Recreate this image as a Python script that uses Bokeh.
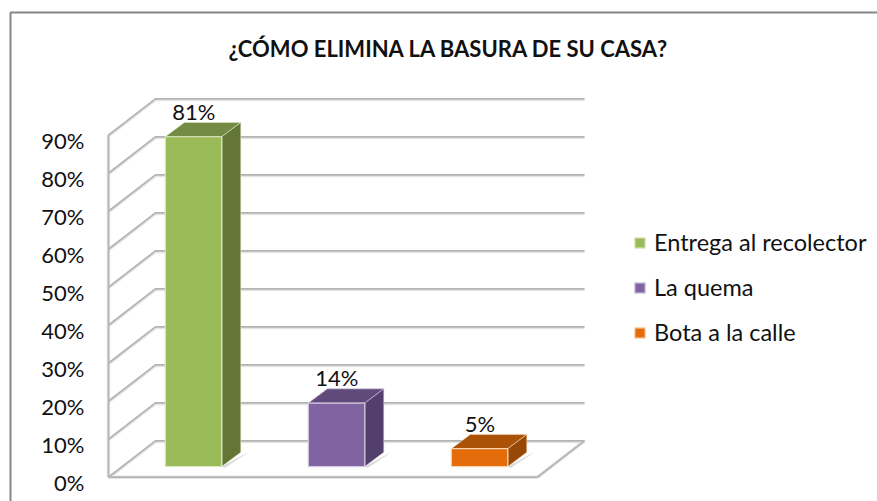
from bokeh.plotting import figure
from bokeh.embed import file_html
from bokeh.resources import INLINE
from bokeh.models import (Range1d, LinearAxis, FixedTicker, PrintfTickFormatter,
                          Legend, LegendItem, ColumnDataSource, Label)
from bokeh.core.properties import value

title_text = "¿CÓMO ELIMINA LA BASURA DE SU CASA?"
categories = ["Entrega al recolector", "La quema", "Bota a la calle"]
shares = [81, 14, 5]                     # printed data labels (%)
drawn_heights = [86.8, 16.7, 4.7]        # bar heights as read against the axis (%)
front_colors = ["#9BBB59", "#8064A2", "#E46C0A"]
side_colors = ["#647538", "#523F6B", "#974806"]
top_colors = ["#748B45", "#5F4A79", "#AB5208"]
edge_colors = ["#DDE8C4", "#D5CBE2", "#F8D5B5"]
ticks = [0, 10, 20, 30, 40, 50, 60, 70, 80, 90]

FONT = "Lato"
DEPTH_X, DEPTH_Y = 0.329, 9.55           # depth of the 3D walls
BAR_DX, BAR_DY = 0.133, 3.76             # depth of a bar
BAR_W, BAR_BASE, BAR_SHIFT = 0.395, 2.8, 0.095
N = len(categories)
GRID = "#B4B4B4"
Y_LO, Y_HI = -6.39, 125.45
X_LO, X_HI = -0.755, 5.378

p = figure(width=877, height=501, output_backend="svg", toolbar_location=None,
           x_range=Range1d(X_LO, X_HI), y_range=Range1d(Y_LO, Y_HI),
           x_axis_location=None, y_axis_location=None,
           min_border_left=0, min_border_right=0, min_border_top=0, min_border_bottom=0,
           outline_line_color=None, background_fill_color="white", border_fill_color="white")
p.grid.visible = False

# chart frame: left and top edges are the only ones inside the picture
p.line([-0.685, -0.685, X_HI], [Y_LO, 122.29, 122.29], line_color="#868686", line_width=2)

p.add_layout(Label(x=2.381, y=112.9, text=title_text, text_font=FONT, text_font_size="22px",
                   text_font_style="bold", text_color="#111111", text_align="center",
                   text_baseline="middle"))

# y axis labels sit slightly below their grid lines
p.extra_y_ranges = {"labels": Range1d(Y_LO + 1.35, Y_HI + 1.35)}
axis = LinearAxis(y_range_name="labels", ticker=FixedTicker(ticks=ticks), fixed_location=0,
                  formatter=PrintfTickFormatter(format="%d%%"),
                  axis_line_color=None, major_tick_line_color=None, minor_tick_line_color=None,
                  major_tick_in=0, major_tick_out=0, major_label_standoff=24,
                  major_label_text_font=FONT, major_label_text_font_size="22px",
                  major_label_text_color="#111111")
p.add_layout(axis, "left")

# walls
gx, gy = [], []
for t in ticks:
    gx.append([0, DEPTH_X, DEPTH_X + N])
    gy.append([t, t + DEPTH_Y, t + DEPTH_Y])
wall_x = [[0, 0], [0, N], [N, N + DEPTH_X]]
wall_y = [[0, ticks[-1]], [0, 0], [0, DEPTH_Y]]
p.multi_line(gx, [[v - 0.22 for v in y] for y in gy], line_color="#E6E6E6", line_width=3)
p.multi_line(wall_x, wall_y, line_color="#E6E6E6", line_width=3.5)
p.multi_line(gx, gy, line_color=GRID, line_width=1.7)
p.multi_line(wall_x, wall_y, line_color=GRID, line_width=1.7)

# bars
items = []
for i, (cat, h, share) in enumerate(zip(categories, drawn_heights, shares)):
    l = i + 0.5 + BAR_SHIFT - BAR_W / 2
    r = l + BAR_W
    b = BAR_BASE
    t = b + h
    p.patch([r, r + BAR_DX + 0.05, r + BAR_DX + 0.03, r + 0.02],
            [b, b + BAR_DY, b + BAR_DY - 0.6, b - 0.4], fill_color="#DADADA", line_color=None)
    p.patch([l, l + BAR_DX, r + BAR_DX, r], [t, t + BAR_DY, t + BAR_DY, t],
            fill_color=top_colors[i], line_color=edge_colors[i], line_width=0.6)
    p.patch([r, r + BAR_DX, r + BAR_DX, r], [b, b + BAR_DY, t + BAR_DY, t],
            fill_color=side_colors[i], line_color=edge_colors[i], line_width=0.6)
    q = p.quad(left=l, right=r, top=t, bottom=b, fill_color=front_colors[i],
               line_color=edge_colors[i], line_width=1.2)
    items.append(LegendItem(label=cat, renderers=[q]))
    src = ColumnDataSource(dict(x=[(l + r) / 2 + BAR_DX / 2 - 0.064], y=[t + BAR_DY], s=[f"{share}%"]))
    p.text("x", "y", text="s", source=src, text_font=value(FONT), text_font_size="22px",
           text_color="#111111", text_align="center", text_baseline="alphabetic", y_offset=-11)

legend = Legend(items=items, location=(633, 155), orientation="vertical",
                glyph_width=13, glyph_height=13, label_standoff=8, label_height=20,
                spacing=17, padding=0, margin=0, border_line_color=None,
                background_fill_alpha=0, label_text_font=FONT, label_text_font_size="23.5px",
                label_text_color="#111111")
p.add_layout(legend, "center")

open("out.html", "w").write(file_html(p, INLINE))
